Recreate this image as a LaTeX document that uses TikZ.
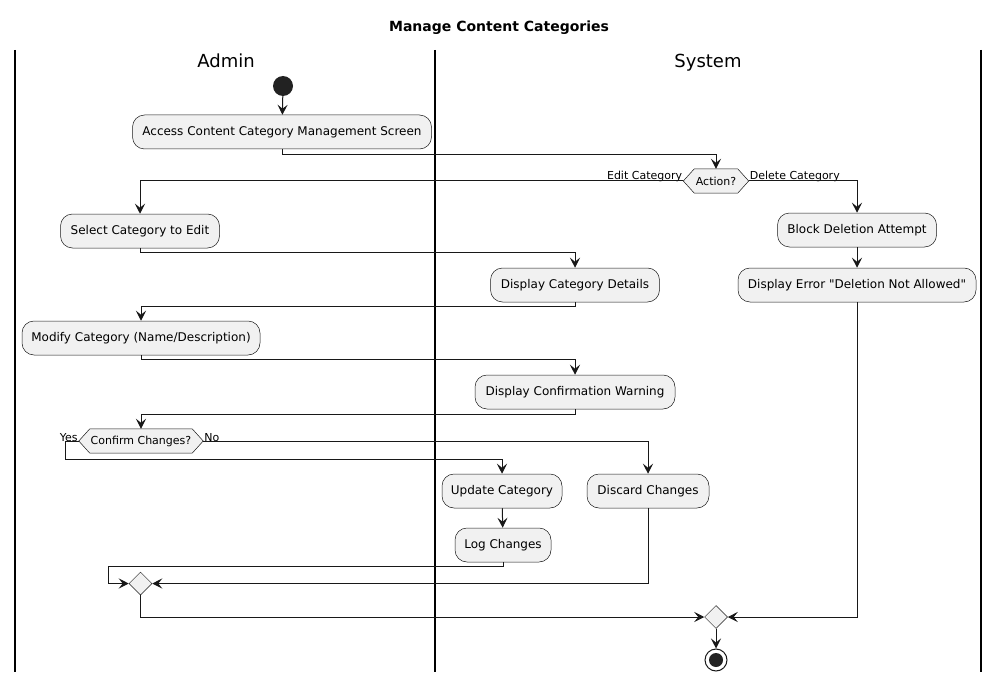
\documentclass[tikz,border=0pt]{standalone}
\usepackage{fontspec}
\setmainfont{DejaVu Sans}
\newfontfamily\plainquotes[Ligatures=ResetAll]{DejaVu Sans}
\usetikzlibrary{arrows.meta,shapes.geometric,backgrounds}
\definecolor{fillc}{HTML}{F1F1F1}
\definecolor{linec}{HTML}{181818}
\definecolor{dotc}{HTML}{222222}
\begin{document}
\begin{tikzpicture}[x=1pt,y=-1pt,
  act/.style={draw=linec, line width=0.5pt, fill=fillc, rounded corners=12pt, minimum height=34pt, inner xsep=2pt, inner ysep=0pt, font=\fontsize{12}{14}\selectfont},
  dectext/.style={inner sep=0pt, minimum height=24pt, font=\fontsize{11}{13}\selectfont},
  decbox/.style={draw=linec, line width=0.5pt, fill=fillc},
  merge/.style={draw=linec, line width=0.5pt, fill=fillc, diamond, minimum size=23pt, inner sep=0pt},
  flow/.style={draw=linec, line width=1pt, -{Stealth[length=10pt,width=10pt,inset=4pt]}},
  lane/.style={draw=black, line width=1.5pt},
  lbl/.style={font=\fontsize{11}{13}\selectfont, inner sep=1pt},
  lanetitle/.style={font=\fontsize{18}{20}\selectfont, anchor=base, inner sep=0pt},
]
\useasboundingbox (0,0) rectangle (999,682);
\node[font=\bfseries\fontsize{14}{16}\selectfont] (title) at (499,28) {Manage Content Categories};
% lanes
\draw[lane] (15,50) -- (15,672);
\draw[lane] (435,50) -- (435,672);
\draw[lane] (981,50) -- (981,672);
\node[lanetitle] (admin) at (226,67.5) {Admin};
\node[lanetitle] (system) at (708,67.5) {System};
% nodes
\node[circle, fill=dotc, minimum size=20pt, inner sep=0pt] (start) at (283,86) {};
\node[act, minimum width=299pt] (access) at (282,132) {Access Content Category Management Screen};
\node[dectext, minimum width=43pt] (action) at (716,181) {Action?};
\coordinate (actionL) at ([xshift=-11pt]action.west);
\coordinate (actionR) at ([xshift=11pt]action.east);
\node[act, minimum width=159pt] (select) at (140,231) {Select Category to Edit};
\node[act, minimum width=159pt] (block) at (857,230) {Block Deletion Attempt};
\node[act, minimum width=169pt] (details) at (575,285) {Display Category Details};
\node[act, minimum width=238pt] (error) at (857,285) {\plainquotes Display Error "Deletion Not Allowed"};
\node[act, minimum width=238pt] (modify) at (141,338) {Modify Category (Name/Description)};
\node[act, minimum width=200pt] (warn) at (575,392) {Display Confirmation Warning};
\node[dectext, minimum width=102pt] (confirm) at (141,441) {Confirm Changes?};
\coordinate (confirmL) at ([xshift=-11pt]confirm.west);
\coordinate (confirmR) at ([xshift=11pt]confirm.east);
\node[act, minimum width=120pt] (update) at (502,491) {Update Category};
\node[act, minimum width=122pt] (discard) at (648,491) {Discard Changes};
\node[act, minimum width=96pt] (log) at (503,545) {Log Changes};
\node[merge] (merge1) at (140.5,583.5) {};
\node[merge] (merge2) at (716,617) {};
\node[circle, draw=linec, line width=1pt, fill=white, minimum size=22pt, inner sep=0pt] (endc) at (716,660) {};
\node[circle, fill=dotc, minimum size=14pt, inner sep=0pt] (enddot) at (716,660) {};
% hexagons
\begin{scope}[on background layer]
\draw[decbox] (action.north west) -- (action.north east) -- (actionR) -- (action.south east) -- (action.south west) -- (actionL) -- cycle;
\draw[decbox] (confirm.north west) -- (confirm.north east) -- (confirmR) -- (confirm.south east) -- (confirm.south west) -- (confirmL) -- cycle;
\end{scope}
% labels
\node[lbl, anchor=south east] (lEdit) at ([yshift=-2pt]actionL) {Edit Category};
\node[lbl, anchor=south west] (lDel) at ([yshift=-2pt]actionR) {Delete Category};
\node[lbl, anchor=south east] (lYes) at ([yshift=-2pt]confirmL) {Yes};
\node[lbl, anchor=south west] (lNo) at ([yshift=-2pt]confirmR) {No};
% connectors
\draw[flow] (start) -- (access);
\draw[flow] (access.south) -- ++(0,5) -| (action.north);
\draw[flow] (actionL) -| (select.north);
\draw[flow] (actionR) -| (block.north);
\draw[flow] (block) -- (error);
\draw[flow] (select.south) -- ++(0,4) -| (details.north);
\draw[flow] (details.south) -- ++(0,4) -| (modify.north);
\draw[flow] (modify.south) -- ++(0,4) -| (warn.north);
\draw[flow] (warn.south) -- ++(0,5) -| (confirm.north);
\draw[flow] (confirmL) -- ++(-13,0) -- ++(0,18) -| (update.north);
\draw[flow] (confirmR) -| (discard.north);
\draw[flow] (update) -- (log);
\draw[flow] (log.south) -- ++(0,4) -| ([xshift=-20pt]merge1.west) -- (merge1.west);
\draw[flow] (discard.south) |- (merge1.east);
\draw[flow] (merge1.south) |- (merge2.west);
\draw[flow] (error.south) |- (merge2.east);
\draw[flow] (merge2.south) -- (endc.north);
\end{tikzpicture}
\end{document}
